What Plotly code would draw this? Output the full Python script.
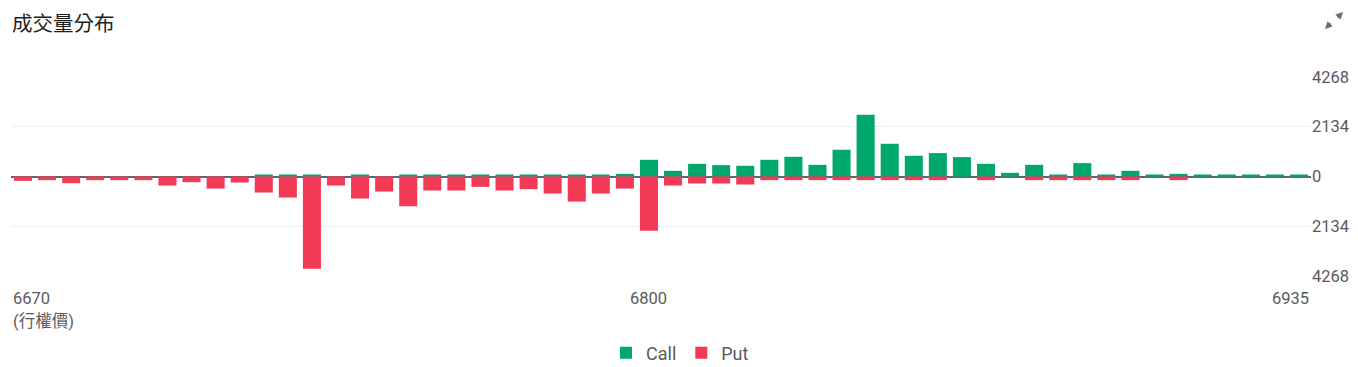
import plotly.graph_objects as go

strikes = [6670, 6675, 6680, 6685, 6690, 6695, 6700, 6705, 6710, 6715,
           6720, 6725, 6730, 6735, 6740, 6745, 6750, 6755, 6760, 6765,
           6770, 6775, 6780, 6785, 6790, 6795, 6800, 6805, 6810, 6815,
           6820, 6825, 6830, 6835, 6840, 6845, 6850, 6855, 6860, 6865,
           6870, 6875, 6880, 6885, 6890, 6895, 6900, 6905, 6910, 6915,
           6920, 6925, 6930, 6935]

call_vol = [0, 0, 0, 0, 0, 0, 0, 0, 0, 0,
            86, 86, 86, 0, 86, 0, 86, 86, 86, 86,
            86, 86, 86, 86, 86, 114, 715, 243, 543, 486,
            458, 715, 844, 500, 1144, 2646, 1401, 887, 1001, 829,
            543, 157, 500, 86, 572, 86, 243, 86, 114, 86,
            86, 86, 86, 86]

put_vol = [186, 157, 286, 157, 157, 157, 386, 243, 515, 257,
           686, 900, 3947, 386, 944, 643, 1273, 600, 600, 443,
           600, 543, 729, 1073, 729, 515, 2317, 386, 300, 300,
           343, 157, 157, 157, 157, 157, 157, 157, 157, 0,
           157, 0, 157, 157, 157, 157, 157, 0, 157, 0,
           0, 0, 0, 0]

y_tick_vals = [-4268, -2134, 0, 2134, 4268]
y_tick_text = ["4268", "2134", "0", "2134", "4268"]
x_label_vals = [6670, 6800, 6935]
title_text = "成交量分布"

CALL_COLOR = "#00A86B"
PUT_COLOR = "#F23A57"
FONT = "Roboto, 'Noto Sans CJK TC', sans-serif"
TEXT = "#5a5a5a"

fig = go.Figure()
fig.add_trace(go.Bar(x=strikes, y=call_vol, name="Call", marker_color=CALL_COLOR,
                     marker_line_width=0))
fig.add_trace(go.Bar(x=strikes, y=[-v for v in put_vol], name="Put", marker_color=PUT_COLOR,
                     marker_line_width=0))

# the page body adds an 8px margin; lay out in page pixels minus that offset
OFF = 8
W, H = 1358 - OFF, 367 - OFF
plot_left, plot_right, plot_top, plot_bottom = 11 - OFF, 1311 - OFF, 76 - OFF, 277 - OFF
ml, mr, mt, mb = plot_left, W - plot_right, plot_top, H - plot_bottom
pw = W - ml - mr
ph = H - mt - mb

def px(xp):
    return (xp - OFF - ml) / pw

def py(yp):
    return (mt + ph - (yp - OFF)) / ph

annotations = []
# chart title
annotations.append(dict(x=px(10), y=py(22), xref="paper", yref="paper", text=title_text,
                        showarrow=False, xanchor="left", yanchor="middle",
                        font=dict(family="'Noto Sans CJK TC', sans-serif", size=20.5,
                                  color="#1e1e1e")))
anchors = ["left", "center", "right"]
xpos = [strikes[0] - 2.5, x_label_vals[1], strikes[-1] + 2.5]
for v, xa, xp in zip(x_label_vals, anchors, xpos):
    annotations.append(dict(x=xp, y=py(298), xref="x", yref="paper", text=str(v),
                            showarrow=False, xanchor=xa, yanchor="middle",
                            font=dict(family=FONT, size=16.5, color=TEXT)))
annotations.append(dict(x=strikes[0] - 2.5, y=py(321), xref="x", yref="paper",
                        text="(行權價)", showarrow=False, xanchor="left", yanchor="middle",
                        font=dict(family=FONT, size=16.5, color=TEXT)))

# expand icon (two diagonal arrows)
for (hx, hy, tx, ty) in [(1343, 12, 1336, 19), (1325, 29, 1332, 22)]:
    annotations.append(dict(x=px(hx), y=py(hy), xref="paper", yref="paper",
                            ax=tx - hx, ay=ty - hy, axref="pixel", ayref="pixel",
                            showarrow=True, arrowhead=2, arrowsize=0.9, arrowwidth=1.6,
                            arrowcolor="#6b6b6b", text=""))

fig.update_layout(
    width=W, height=H,
    margin=dict(l=ml, r=mr, t=mt, b=mb),
    paper_bgcolor="white", plot_bgcolor="white",
    barmode="relative", bargap=0.25,
    font=dict(family=FONT, size=16, color=TEXT),
    showlegend=True,
    legend=dict(orientation="h", xref="container", yref="container",
                x=(606 - OFF) / W, xanchor="left", y=1 - (353 - OFF) / H, yanchor="middle",
                font=dict(family=FONT, size=18, color=TEXT)),
    xaxis=dict(range=[strikes[0] - 2.5, strikes[-1] + 2.5], showticklabels=False,
               showgrid=False, zeroline=False, showline=False, ticks=""),
    yaxis=dict(side="right", range=[-4300, 4300], tickvals=y_tick_vals, ticktext=y_tick_text,
               showgrid=True, gridcolor="#efefef", gridwidth=1,
               zeroline=True, zerolinecolor="#5d6679", zerolinewidth=2,
               showline=False, ticks="", tickfont=dict(family=FONT, size=16.5, color=TEXT),
               layer="above traces"),
    annotations=annotations,
)

fig.write_html("out.html")
